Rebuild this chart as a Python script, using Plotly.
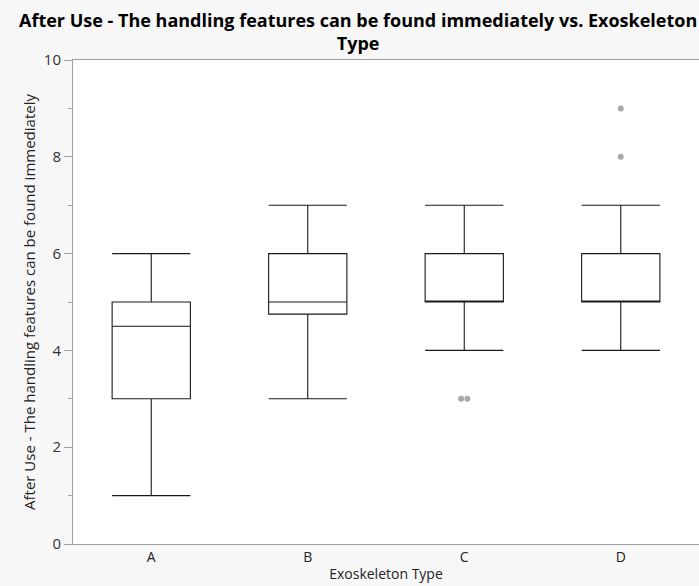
import plotly.graph_objects as go

# Summary statistics per exoskeleton type
categories = ["A", "B", "C", "D"]
q1 = [3, 4.75, 5, 5]
median = [4.5, 5, 5, 5]
q3 = [5, 6, 6, 6]
lower_fence = [1, 3, 4, 4]
upper_fence = [6, 7, 7, 7]

# Outlying responses (category, value) with small horizontal jitter
outlier_cat = ["C", "C", "D", "D"]
outlier_val = [3, 3, 8, 9]
outlier_jitter = [-0.02, 0.02, 0, 0]

y_ticks = [0, 2, 4, 6, 8, 10]

positions = list(range(len(categories)))
pos_of = {c: i for i, c in enumerate(categories)}

W, H = 699, 586
L, R, T, B = 73, 0, 60, 42
plot_w, plot_h = W - L - R, H - T - B

fig = go.Figure()
fig.add_trace(go.Box(
    x=positions,
    q1=q1, median=median, q3=q3,
    lowerfence=lower_fence, upperfence=upper_fence,
    width=0.5, whiskerwidth=1,
    fillcolor="white",
    line=dict(color="#1a1a1a", width=1.1),
    boxpoints=False,
    hoverinfo="skip",
    showlegend=False,
))
fig.add_trace(go.Scatter(
    x=[pos_of[c] + j for c, j in zip(outlier_cat, outlier_jitter)],
    y=outlier_val,
    mode="markers",
    marker=dict(color="#a8a8a8", size=6),
    showlegend=False,
))

font_family = "Open Sans, Noto Sans, DejaVu Sans, sans-serif"

fig.update_layout(
    width=W, height=H,
    margin=dict(l=L, r=R, t=T, b=B, autoexpand=False),
    paper_bgcolor="#f7f7f7",
    plot_bgcolor="white",
    font=dict(family=font_family, size=14, color="#333333"),
)
# Chart title, centred slightly right of the window centre
fig.add_annotation(
    text="<b>After Use - The handling features can be found immediately vs. Exoskeleton<br>Type</b>",
    xref="paper", yref="paper",
    x=(358 - L) / plot_w, xanchor="center",
    y=1 + (T - 6) / plot_h, yanchor="top",
    showarrow=False, align="center",
    font=dict(family=font_family, size=18, color="black"),
)
fig.update_xaxes(
    range=[-0.5, len(categories) - 0.5],
    tickvals=positions, ticktext=categories,
    ticks="", showgrid=False, zeroline=False,
    showline=True, linecolor="#a0a0a0", linewidth=1, mirror=True,
    tickfont=dict(size=14, color="#222222"),
    title=dict(text="Exoskeleton Type", standoff=4, font=dict(size=14, color="#222222")),
)
fig.update_yaxes(
    range=[0, 10], tickvals=y_ticks,
    ticks="outside", ticklen=8, tickcolor="#a0a0a0", tickwidth=1,
    minor=dict(dtick=1, ticks="outside", ticklen=4, tickcolor="#a0a0a0", showgrid=False),
    showgrid=False, zeroline=False,
    showline=True, linecolor="#a0a0a0", linewidth=1, mirror=True,
    tickfont=dict(size=15, color="#333333"),
    title=dict(text="After Use - The handling features can be found immediately",
               standoff=4, font=dict(size=15, color="#222222")),
)

fig.write_html("out.html")
